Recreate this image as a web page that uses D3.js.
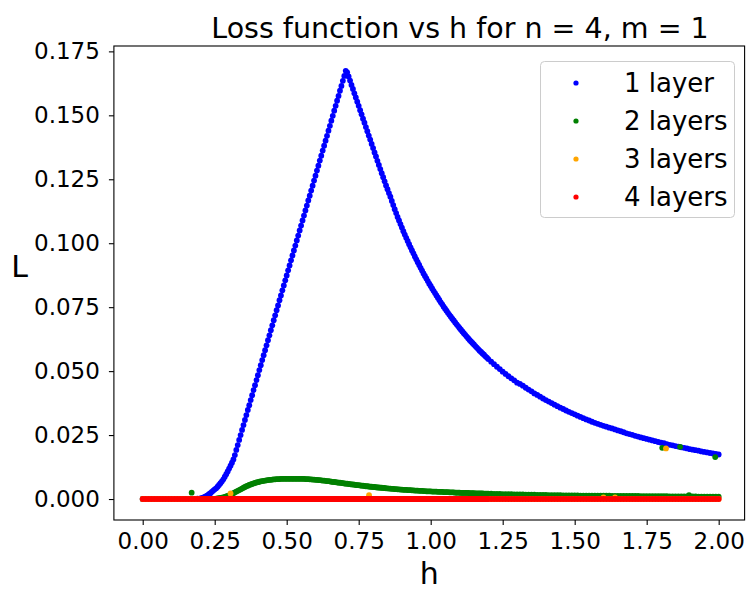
<!DOCTYPE html>
<html lang="en">
<head>
<meta charset="UTF-8">
<title>Loss function vs h</title>
<script src="https://d3js.org/d3.v7.min.js"></script>
<style>
  body { margin: 0; background: #fff; }
  text { font-family: "DejaVu Sans", sans-serif; fill: #000; }
</style>
</head>
<body>
<div id="plot"></div>
<script>
// h values (finer steps where the curves move quickly)
const hGrid = [
  0,0.01,0.02,0.03,0.04,0.05,0.06,0.07,0.08,0.09,
  0.1,0.11,0.12,0.13,0.14,0.15,0.16,0.17,0.18,0.19,
  0.2,
  0.205,0.21,0.215,0.22,0.225,0.23,0.235,0.24,0.245,0.25,
  0.255,0.26,0.265,0.27,0.275,0.28,0.285,0.29,0.295,0.3,
  0.305,0.31,0.315,0.32,0.325,0.33,0.335,0.34,0.345,0.35,
  0.355,0.36,0.365,0.37,0.375,0.38,0.385,0.39,0.395,0.4,
  0.405,0.41,0.415,0.42,0.425,0.43,0.435,0.44,0.445,0.45,
  0.455,0.46,0.465,0.47,0.475,0.48,0.485,0.49,0.495,0.5,
  0.505,0.51,0.515,0.52,0.525,0.53,0.535,0.54,0.545,0.55,
  0.555,0.56,0.565,0.57,0.575,0.58,0.585,0.59,0.595,0.6,
  0.605,0.61,0.615,0.62,0.625,0.63,0.635,0.64,0.645,0.65,
  0.655,0.66,0.665,0.67,0.675,0.68,0.685,0.69,0.695,0.7,
  0.705,0.71,0.715,0.72,0.725,0.73,0.735,0.74,0.745,0.75,
  0.755,0.76,0.765,0.77,0.775,0.78,0.785,0.79,0.795,0.8,
  0.805,0.81,0.815,0.82,0.825,0.83,0.835,0.84,0.845,0.85,
  0.855,0.86,0.865,0.87,0.875,0.88,0.885,0.89,0.895,0.9,
  0.905,0.91,0.915,0.92,0.925,0.93,0.935,0.94,0.945,0.95,
  0.955,0.96,0.965,0.97,0.975,0.98,0.985,0.99,0.995,1.0,
  1.005,1.01,1.015,1.02,1.025,1.03,1.035,1.04,1.045,1.05,
  1.055,1.06,1.065,1.07,1.075,1.08,1.085,1.09,1.095,1.1,
  1.105,1.11,1.115,1.12,1.125,1.13,1.135,1.14,1.145,1.15,
  1.155,1.16,1.165,1.17,1.175,1.18,1.185,1.19,1.195,1.2,
  1.21,1.22,1.23,1.24,1.25,1.26,1.27,1.28,1.29,1.3,
  1.31,1.32,1.33,1.34,1.35,1.36,1.37,1.38,1.39,1.4,
  1.41,1.42,1.43,1.44,1.45,1.46,1.47,1.48,1.49,1.5,
  1.51,1.52,1.53,1.54,1.55,1.56,1.57,1.58,1.59,1.6,
  1.61,1.62,1.63,1.64,1.65,1.66,1.67,1.68,1.69,1.7,
  1.71,1.72,1.73,1.74,1.75,1.76,1.77,1.78,1.79,1.8,
  1.81,1.82,1.83,1.84,1.85,1.86,1.87,1.88,1.89,1.9,
  1.91,1.92,1.93,1.94,1.95,1.96,1.97,1.98,1.99,2.0
];

// 1 layer
const loss1 = [
  0,0,0,0,0,0,0,0,0,0,
  0,0,0,0,0,0,0,0,0,0.0001,
  0.0002,
  0.0003,0.0005,0.0008,0.0011,0.0014,0.0019,0.0023,0.0028,0.0033,0.0038,
  0.0042,0.0048,0.0055,0.0062,0.0069,0.0077,0.0087,0.0097,0.0108,0.0119,
  0.0130,0.0142,0.0155,0.0172,0.0192,0.0211,0.0231,0.0250,0.0270,0.0289,
  0.0309,0.0328,0.0348,0.0367,0.0387,0.0406,0.0426,0.0445,0.0465,0.0484,
  0.0504,0.0523,0.0543,0.0562,0.0582,0.0601,0.0621,0.0640,0.0660,0.0679,
  0.0699,0.0718,0.0738,0.0757,0.0777,0.0796,0.0816,0.0835,0.0855,0.0874,
  0.0894,0.0913,0.0933,0.0952,0.0972,0.0991,0.1011,0.1030,0.1050,0.1069,
  0.1089,0.1108,0.1128,0.1147,0.1167,0.1186,0.1206,0.1225,0.1245,0.1264,
  0.1284,0.1303,0.1323,0.1342,0.1362,0.1381,0.1401,0.1420,0.1440,0.1459,
  0.1479,0.1498,0.1518,0.1537,0.1557,0.1576,0.1596,0.1615,0.1635,0.1654,
  0.1674,0.1668,0.1652,0.1636,0.1619,0.1603,0.1586,0.1570,0.1553,0.1537,
  0.1520,0.1504,0.1487,0.1471,0.1454,0.1438,0.1421,0.1405,0.1388,0.1372,
  0.1355,0.1339,0.1322,0.1306,0.1290,0.1274,0.1258,0.1242,0.1226,0.1211,
  0.1196,0.1182,0.1165,0.1149,0.1133,0.1118,0.1103,0.1089,0.1075,0.1061,
  0.1047,0.1034,0.1021,0.1009,0.0996,0.0984,0.0972,0.0960,0.0948,0.0937,
  0.0926,0.0915,0.0904,0.0893,0.0882,0.0872,0.0862,0.0852,0.0842,0.0833,
  0.0823,0.0814,0.0805,0.0796,0.0787,0.0778,0.0769,0.0761,0.0752,0.0744,
  0.0736,0.0728,0.0720,0.0713,0.0705,0.0698,0.0690,0.0683,0.0676,0.0669,
  0.0662,0.0655,0.0648,0.0642,0.0635,0.0629,0.0622,0.0616,0.0610,0.0604,
  0.0598,0.0592,0.0586,0.0580,0.0575,0.0569,0.0564,0.0558,0.0553,0.0547,
  0.0537,0.0527,0.0517,0.0508,0.0498,0.0489,0.0480,0.0472,0.0464,0.0455,
  0.0450,0.0443,0.0435,0.0428,0.0421,0.0413,0.0407,0.0400,0.0393,0.0387,
  0.0381,0.0375,0.0369,0.0363,0.0357,0.0352,0.0346,0.0341,0.0336,0.0331,
  0.0326,0.0321,0.0316,0.0311,0.0307,0.0302,0.0298,0.0294,0.0290,0.0286,
  0.0283,0.0279,0.0276,0.0272,0.0268,0.0265,0.0261,0.0257,0.0254,0.0251,
  0.0247,0.0244,0.0241,0.0238,0.0235,0.0232,0.0229,0.0226,0.0223,0.0220,
  0.0218,0.0215,0.0212,0.0210,0.0207,0.0205,0.0202,0.0200,0.0198,0.0195,
  0.0193,0.0191,0.0189,0.0186,0.0184,0.0182,0.0180,0.0178,0.0176,0.0174
];

// 2 layers
const loss2 = [
  0,0,0,0,0,0,0,0,0,0,
  0,0,0,0,0,0,0,0,0,0,
  0,
  0,0,0,0,0,0,0,0,0,0,
  0.0001,0.0002,0.0003,0.0004,0.0005,0.0006,0.0008,0.0010,0.0012,0.0014,
  0.0017,0.0020,0.0023,0.0026,0.0029,0.0032,0.0035,0.0038,0.0041,0.0044,
  0.0047,0.0050,0.0052,0.0055,0.0057,0.0059,0.0061,0.0063,0.0065,0.0066,
  0.0068,0.0069,0.0070,0.0071,0.0072,0.0073,0.0074,0.0075,0.0075,0.0076,
  0.0077,0.0077,0.0078,0.0078,0.0078,0.0079,0.0079,0.0079,0.0079,0.0079,
  0.0079,0.0079,0.0079,0.0079,0.0079,0.0079,0.0079,0.0079,0.0079,0.0079,
  0.0079,0.0079,0.0078,0.0078,0.0078,0.0077,0.0077,0.0076,0.0076,0.0075,
  0.0075,0.0074,0.0074,0.0073,0.0072,0.0072,0.0071,0.0070,0.0070,0.0069,
  0.0068,0.0067,0.0067,0.0066,0.0065,0.0064,0.0064,0.0063,0.0062,0.0061,
  0.0060,0.0060,0.0059,0.0058,0.0057,0.0057,0.0056,0.0055,0.0054,0.0054,
  0.0053,0.0052,0.0052,0.0051,0.0050,0.0050,0.0049,0.0048,0.0048,0.0047,
  0.0047,0.0046,0.0045,0.0045,0.0044,0.0044,0.0043,0.0043,0.0042,0.0042,
  0.0041,0.0041,0.0040,0.0040,0.0039,0.0039,0.0038,0.0038,0.0037,0.0037,
  0.0036,0.0036,0.0036,0.0035,0.0035,0.0035,0.0034,0.0034,0.0033,0.0033,
  0.0033,0.0032,0.0032,0.0032,0.0031,0.0031,0.0030,0.0030,0.0030,0.0030,
  0.0029,0.0029,0.0029,0.0029,0.0028,0.0028,0.0028,0.0028,0.0027,0.0027,
  0.0027,0.0027,0.0026,0.0026,0.0026,0.0026,0.0025,0.0025,0.0025,0.0025,
  0.0024,0.0024,0.0024,0.0024,0.0024,0.0024,0.0023,0.0023,0.0023,0.0023,
  0.0022,0.0022,0.0022,0.0022,0.0022,0.0022,0.0021,0.0021,0.0021,0.0021,
  0.0021,0.0020,0.0020,0.0020,0.0019,0.0019,0.0019,0.0019,0.0018,0.0018,
  0.0018,0.0018,0.0017,0.0017,0.0017,0.0017,0.0016,0.0016,0.0016,0.0016,
  0.0015,0.0015,0.0015,0.0015,0.0015,0.0014,0.0014,0.0014,0.0014,0.0014,
  0.0014,0.0013,0.0013,0.0013,0.0013,0.0013,0.0013,0.0013,0.0013,0.0013,
  0.0013,0.0013,0.0012,0.0012,0.0012,0.0012,0.0012,0.0012,0.0012,0.0012,
  0.0012,0.0012,0.0011,0.0011,0.0011,0.0011,0.0011,0.0011,0.0011,0.0011,
  0.0011,0.0011,0.0010,0.0010,0.0010,0.0010,0.0010,0.0010,0.0010,0.0010,
  0.0010,0.0010,0.0009,0.0009,0.0009,0.0009,0.0009,0.0009,0.0009,0.0009
];

// 3 layers
const loss3 = [
  0,0,0,0,0,0,0,0,0,0, 0,0,0,0,0,0,0,0,0,0, 0,
  0,0,0,0,0,0,0,0,0,0, 0,0,0,0,0,0,0,0,0,0, 0,0,0,0,0,0,0,0,0,0,
  0,0,0,0,0,0,0,0,0,0, 0,0,0,0,0,0,0,0,0,0, 0,0,0,0,0,0,0,0,0,0,
  0,0,0,0,0,0,0,0,0,0, 0,0,0,0,0,0,0,0,0,0, 0,0,0,0,0,0,0,0,0,0,
  0,0,0,0,0,0,0,0,0,0, 0,0,0,0,0,0,0,0,0,0, 0,0,0,0,0,0,0,0,0,0,
  0,0,0,0,0,0,0,0,0,0, 0,0,0,0,0,0,0,0,0,0, 0,0,0,0,0,0,0,0,0,0,
  0,0,0,0,0,0,0,0,0,0, 0,0,0,0,0,0,0,0,0,0, 0,0,0,0,0,0,0,0,0,0,
  0,0,0,0,0,0,0,0,0,0, 0,0,0,0,0,0,0,0,0,0,
  0,0,0,0,0,0,0,0,0,0, 0,0,0,0,0,0,0,0,0,0, 0,0,0,0,0,0,0,0,0,0,
  0,0,0,0,0,0,0,0,0,0, 0,0,0,0,0,0,0,0,0,0, 0,0,0,0,0,0,0,0,0,0,
  0,0,0,0,0,0,0,0,0,0, 0,0,0,0,0,0,0,0,0,0
];

// 4 layers
const loss4 = [
  0,0,0,0,0,0,0,0,0,0, 0,0,0,0,0,0,0,0,0,0, 0,
  0,0,0,0,0,0,0,0,0,0, 0,0,0,0,0,0,0,0,0,0, 0,0,0,0,0,0,0,0,0,0,
  0,0,0,0,0,0,0,0,0,0, 0,0,0,0,0,0,0,0,0,0, 0,0,0,0,0,0,0,0,0,0,
  0,0,0,0,0,0,0,0,0,0, 0,0,0,0,0,0,0,0,0,0, 0,0,0,0,0,0,0,0,0,0,
  0,0,0,0,0,0,0,0,0,0, 0,0,0,0,0,0,0,0,0,0, 0,0,0,0,0,0,0,0,0,0,
  0,0,0,0,0,0,0,0,0,0, 0,0,0,0,0,0,0,0,0,0, 0,0,0,0,0,0,0,0,0,0,
  0,0,0,0,0,0,0,0,0,0, 0,0,0,0,0,0,0,0,0,0, 0,0,0,0,0,0,0,0,0,0,
  0,0,0,0,0,0,0,0,0,0, 0,0,0,0,0,0,0,0,0,0,
  0,0,0,0,0,0,0,0,0,0, 0,0,0,0,0,0,0,0,0,0, 0,0,0,0,0,0,0,0,0,0,
  0,0,0,0,0,0,0,0,0,0, 0,0,0,0,0,0,0,0,0,0, 0,0,0,0,0,0,0,0,0,0,
  0,0,0,0,0,0,0,0,0,0, 0,0,0,0,0,0,0,0,0,0
];

// stray points that sit off the main curves, [h, L]
const stray1 = [];
const stray2 = [[0.17, 0.0025], [1.804, 0.0200], [1.866, 0.0204], [1.897, 0.0015], [1.988, 0.0164]];
const stray3 = [[0.305, 0.0022], [0.786, 0.0015], [1.60, 0.0006], [1.64, 0.0006], [1.817, 0.0198]];
const stray4 = [];

const seriesNames = ['1 layer', '2 layers', '3 layers', '4 layers'];
const xTicks = [0, 0.25, 0.5, 0.75, 1.0, 1.25, 1.5, 1.75, 2.0];
const yTicks = [0, 0.025, 0.05, 0.075, 0.1, 0.125, 0.15, 0.175];

const colors = ['blue', 'green', 'orange', 'red'];
const allLoss = [loss1, loss2, loss3, loss4];
const allStray = [stray1, stray2, stray3, stray4];

let svgWidth = 748, svgHeight = 590;
let plot = {left: 113.9, right: 744.6, top: 46, bottom: 520};

let svg = d3.select('#plot')
  .append('svg')
    .attr('width', svgWidth)
    .attr('height', svgHeight);

let x = d3.scaleLinear().domain([-0.1, 2.09]).range([plot.left, plot.right]);
let y = d3.scaleLinear().domain([-0.0082, 0.1771]).range([plot.bottom, plot.top]);

// points
allLoss.forEach(function(vals, i) {
  let pts = hGrid.map((h, j) => [h, vals[j]])
    .filter(p => p[1] !== undefined)
    .concat(allStray[i]);
  svg.append('g')
    .selectAll('circle')
    .data(pts)
    .enter()
    .append('circle')
      .attr('cx', d => x(d[0]))
      .attr('cy', d => y(d[1]))
      .attr('r', 2.9)
      .style('fill', colors[i]);
});

// axes
let xAxis = d3.axisBottom(x).tickValues(xTicks).tickFormat(d3.format('.2f'))
  .tickSize(5).tickPadding(8);
let yAxis = d3.axisLeft(y).tickValues(yTicks).tickFormat(d3.format('.3f'))
  .tickSize(5).tickPadding(9);

let gx = svg.append('g')
  .attr('transform', 'translate(0,' + plot.bottom + ')')
  .call(xAxis);
let gy = svg.append('g')
  .attr('transform', 'translate(' + plot.left + ',0)')
  .call(yAxis);

[gx, gy].forEach(function(g) {
  g.select('.domain').remove();
  g.selectAll('line').attr('stroke', '#000').attr('stroke-width', 1.1);
  g.selectAll('text').style('font-size', '23px').style('font-family', '"DejaVu Sans", sans-serif');
});

// frame
svg.append('rect')
  .attr('x', plot.left)
  .attr('y', plot.top)
  .attr('width', plot.right - plot.left)
  .attr('height', plot.bottom - plot.top)
  .attr('fill', 'none')
  .attr('stroke', '#000')
  .attr('stroke-width', 1.1);

// title and labels
svg.append('text')
  .attr('x', 460)
  .attr('y', 38)
  .attr('text-anchor', 'middle')
  .style('font-size', '28.5px')
  .text('Loss function vs h for n = 4, m = 1');

svg.append('text')
  .attr('x', (plot.left + plot.right) / 2)
  .attr('y', 584)
  .attr('text-anchor', 'middle')
  .style('font-size', '30px')
  .text('h');

svg.append('text')
  .attr('x', 19.5)
  .attr('y', 277)
  .attr('text-anchor', 'middle')
  .style('font-size', '30px')
  .text('L');

// legend
let legend = svg.append('g');
legend.append('rect')
  .attr('x', 540.5)
  .attr('y', 61.5)
  .attr('width', 194)
  .attr('height', 156)
  .attr('rx', 4)
  .attr('fill', '#fff')
  .attr('fill-opacity', 0.8)
  .attr('stroke', '#cccccc')
  .attr('stroke-width', 1);

seriesNames.forEach(function(name, i) {
  let cy = 83 + i * 38;
  legend.append('circle')
    .attr('cx', 576)
    .attr('cy', cy)
    .attr('r', 2.6)
    .style('fill', colors[i]);
  legend.append('text')
    .attr('x', 624)
    .attr('y', cy + 9.4)
    .style('font-size', '26px')
    .text(name);
});
</script>
</body>
</html>
